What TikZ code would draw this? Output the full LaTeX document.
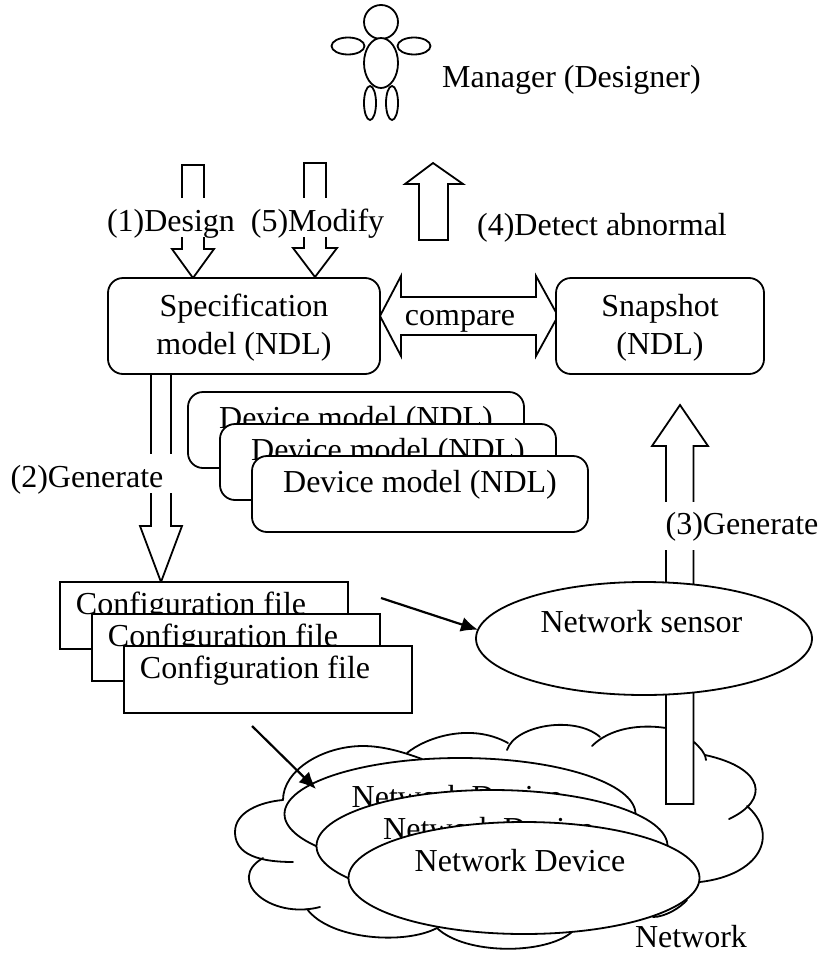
\documentclass[tikz,border=0pt]{standalone}
\usepackage{fontspec}
\setmainfont{Liberation Serif}
\usetikzlibrary{arrows.meta,shapes.geometric}
\newcommand{\topstrut}{\rule{0pt}{25pt}}
\tikzset{
  x=1pt,y=-1pt,
  every node/.style={font=\fontsize{32}{38}\selectfont,inner sep=0pt,outer sep=0pt},
  ln/.style={draw=black,line width=1.8pt},
  blockarrow/.style={ln,fill=white,line join=miter},
  rbox/.style={ln,fill=white,rectangle,rounded corners=15pt,anchor=north west},
  cfgbox/.style={ln,fill=white,rectangle,anchor=north west,minimum width=288pt,minimum height=67pt},
  devbox/.style={rbox,minimum width=336pt,minimum height=76pt},
  oval/.style={ln,fill=white,ellipse,minimum width=351pt,minimum height=112pt},
  body/.style={ln,fill=white,ellipse},
  lab/.style={anchor=base},
  gaplab/.style={anchor=base,fill=white,inner xsep=10pt,text depth=6pt,text height=33pt},
  conn/.style={draw=black,line width=2.2pt,-{Latex[length=17pt,width=15pt]}},
  cloudline/.style={ln,line cap=round}
}
\begin{document}
\begin{tikzpicture}
\useasboundingbox (0,0) rectangle (823,953);
% actor
\node[body,minimum width=34pt,minimum height=34pt] (head) at (381,22) {};
\node[body,minimum width=34pt,minimum height=50pt] (torso) at (381,63) {};
\node[body,minimum width=33pt,minimum height=17pt] (armL) at (348,46) {};
\node[body,minimum width=33pt,minimum height=17pt] (armR) at (414,46) {};
\node[body,minimum width=12pt,minimum height=34pt] (legL) at (370,103) {};
\node[body,minimum width=12pt,minimum height=34pt] (legR) at (392,103) {};
\node[lab] (mgr) at (571.5,87) {Manager (Designer)};
% block arrows top
\draw[blockarrow] (182,165) -- (204,165) -- (204,249) -- (214,249) -- (193,278) -- (172,249) -- (182,249) -- cycle;
\draw[blockarrow] (304,163) -- (326,163) -- (326,248) -- (337,248) -- (315,277) -- (293,248) -- (304,248) -- cycle;
\draw[blockarrow] (433,163) -- (463,184) -- (448,184) -- (448,240) -- (419,240) -- (419,184) -- (405,184) -- cycle;
\node[gaplab] (design) at (171,231) {(1)Design};
\node[gaplab] (modify) at (317.5,231) {(5)Modify};
\node[lab] (detect) at (602,235) {(4)Detect abnormal};
% compare arrow
\draw[blockarrow] (380,316) -- (401,276) -- (401,297) -- (536,297) -- (536,276) -- (558,316) -- (536,356) -- (536,335) -- (401,335) -- (401,356) -- cycle;
\node[lab] (cmp) at (460,325) {compare};
% generate arrow 2
\draw[blockarrow] (151,372) -- (171,372) -- (171,526) -- (182,526) -- (161,582) -- (140,526) -- (151,526) -- cycle;
\node[gaplab] (gen2) at (87,487) {(2)Generate};
% spec + snapshot
\node[rbox,minimum width=272pt,minimum height=96pt,align=center] (spec) at (108,278) {\topstrut Specification\\model (NDL)};
\node[rbox,minimum width=208pt,minimum height=96pt,align=center] (snap) at (556,278) {\topstrut Snapshot\\(NDL)};
% device models
\node[devbox] (dev1) at (188,392) {};
\node[lab] (dev1t) at (356,428) {Device model (NDL)};
\node[devbox] (dev2) at (220,424) {};
\node[lab] (dev2t) at (388,460) {Device model (NDL)};
\node[devbox] (dev3) at (252,456) {};
\node[lab] (dev3t) at (420,492) {Device model (NDL)};
% config files
\node[cfgbox] (cfg1) at (60,582) {};
\node[lab] (cfg1t) at (191,614) {Configuration file};
\node[cfgbox] (cfg2) at (92,614) {};
\node[lab] (cfg2t) at (223,646) {Configuration file};
\node[cfgbox] (cfg3) at (124,646) {};
\node[lab] (cfg3t) at (255,678) {Configuration file};
% cloud
\draw[cloudline] (283,800) .. controls (283,770) and (323,746) .. (363,746) .. controls (383,746) and (403,752) .. (422,759);
\draw[cloudline] (407,753) .. controls (425,738) and (470,722) .. (508,743);
\draw[cloudline] (507,750) .. controls (515,725) and (575,715) .. (600,737);
\draw[cloudline] (592,746) .. controls (610,728) and (640,724) .. (666,728);
\draw[cloudline] (694,742) .. controls (700,748) and (705,752) .. (706,760);
\draw[cloudline] (705,755) .. controls (765,768) and (770,800) .. (729,819);
\draw[cloudline] (747,806) .. controls (780,835) and (760,875) .. (700,882);
\draw[cloudline] (687,900) .. controls (680,908) and (665,917) .. (653,917);
\draw[cloudline] (437,928) .. controls (465,955) and (545,955) .. (572,932);
\draw[cloudline] (307,909) .. controls (330,940) and (405,945) .. (437,928);
\draw[cloudline] (320,907) .. controls (270,920) and (225,880) .. (263,858);
\draw[cloudline] (293,862) .. controls (250,862) and (235,850) .. (235,832) .. controls (235,812) and (260,802) .. (283,800);
% generate arrow 3
\draw[blockarrow] (680,405) -- (708,446) -- (693.5,446) -- (693.5,804) -- (666,804) -- (666,446) -- (652,446) -- cycle;
\node[gaplab,text depth=16pt,text height=32pt] (gen3) at (742,534) {(3)Generate};
% sensor
\node[oval,minimum width=336pt,minimum height=113pt] (sensor) at (644,638.5) {};
\node[lab] (sensort) at (641.5,632) {Network sensor};
% network devices
\node[oval] (netA) at (460,814) {};
\node[lab] (netAt) at (457,807) {Network Device};
\node[oval] (netB) at (492,846) {};
\node[lab] (netBt) at (488.5,839) {Network Device};
\node[oval] (netC) at (524,878) {};
\node[lab] (netCt) at (520,871) {Network Device};
\node[lab] (netlbl) at (691,947) {Network};
% connectors
\coordinate (cfgA) at (381,598);
\coordinate (cfgB) at (252,726);
\coordinate (tipB) at (316,789);
\draw[conn] (cfgA) -- (sensor.177);
\draw[conn] (cfgB) -- (tipB);
\end{tikzpicture}
\end{document}
